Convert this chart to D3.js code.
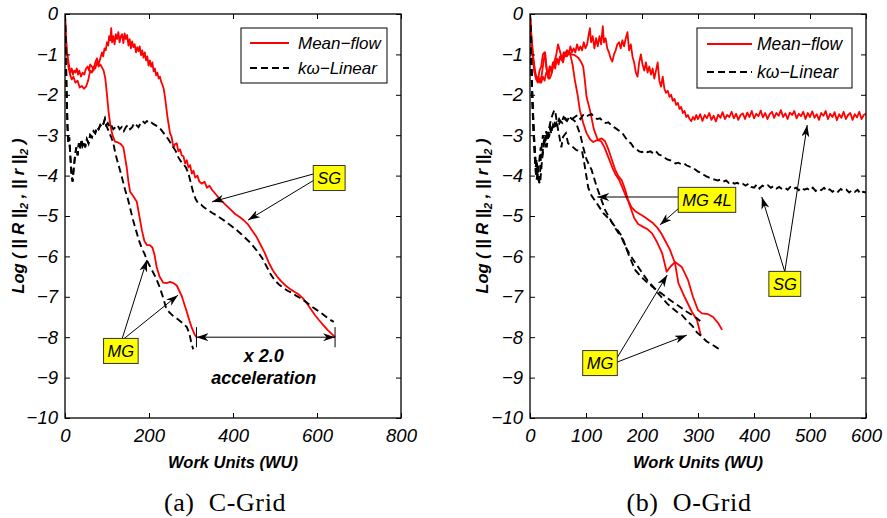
<!DOCTYPE html>
<html>
<head>
<meta charset="utf-8">
<script src="https://cdn.jsdelivr.net/npm/d3@7"></script>
<style>
body { margin: 0; background: #fff; }
svg { display: block; }
text { white-space: pre; }
</style>
</head>
<body>
<svg id="fig" width="887" height="518"></svg>
<script>
'use strict';

// ---- data (work units, log residual) ----
var yTicks = [0, -1, -2, -3, -4, -5, -6, -7, -8, -9, -10];
var cGridTicks = [0, 200, 400, 600, 800];
var oGridTicks = [0, 100, 200, 300, 400, 500, 600];

var cMeanSG = [[0,0],[2,-0.5],[4,-0.85],[7,-1.1],[10,-1.3],[13,-1.45],[16,-1.35],[19,-1.5],[22,-1.4],[25,-1.45],[28,-1.35],[31,-1.5],[34,-1.4],[38,-1.55],[42,-1.45],[46,-1.5],[50,-1.35],[54,-1.3],[57,-1.4],[60,-1.25],[64,-1.3],[68,-1.4],[72,-1.2],[76,-1.1],[80,-1.25],[84,-1.1],[88,-0.95],[91,-1.05],[94,-0.85],[97,-0.9],[100,-0.7],[103,-0.78],[105,-0.55],[108,-0.65],[110,-0.35],[112,-0.7],[115,-0.55],[118,-0.75],[121,-0.5],[124,-0.62],[127,-0.45],[130,-0.7],[133,-0.55],[136,-0.5],[139,-0.72],[142,-0.48],[145,-0.62],[148,-0.52],[151,-0.78],[154,-0.62],[157,-0.85],[160,-0.68],[163,-0.82],[166,-0.75],[169,-0.95],[172,-0.82],[175,-0.92],[178,-0.8],[181,-1.02],[184,-0.9],[187,-1.08],[190,-0.95],[193,-1.15],[196,-1.05],[199,-1.28],[202,-1.15],[205,-1.3],[208,-1.2],[211,-1.42],[214,-1.35],[217,-1.52],[220,-1.45],[223,-1.6],[226,-1.55],[229,-1.68],[232,-1.75],[235,-1.85],[238,-2.05],[241,-2.3],[244,-2.55],[247,-2.75],[250,-2.95],[254,-3.05],[258,-3.3],[262,-3.22],[266,-3.2],[270,-3.4],[274,-3.35],[278,-3.5],[282,-3.52],[286,-3.7],[290,-3.62],[294,-3.8],[298,-3.74],[302,-3.95],[306,-3.88],[310,-4.05],[315,-4.0],[320,-4.15],[326,-4.2],[332,-4.15],[338,-4.3],[344,-4.25],[350,-4.35],[358,-4.45],[366,-4.55],[375,-4.65],[385,-4.75],[395,-4.85],[405,-4.95],[415,-5.02],[425,-5.1],[435,-5.2],[445,-5.35],[455,-5.5],[465,-5.7],[475,-5.9],[485,-6.15],[495,-6.35],[505,-6.5],[515,-6.62],[525,-6.72],[535,-6.8],[545,-6.87],[555,-6.93],[565,-7.02],[575,-7.15],[585,-7.3],[595,-7.45],[605,-7.58],[615,-7.7],[625,-7.82],[635,-7.92],[643,-8.0]];

var cMeanMG = [[0,0],[2,-0.6],[5,-1.0],[8,-1.3],[12,-1.5],[16,-1.62],[20,-1.55],[25,-1.7],[30,-1.65],[35,-1.82],[40,-1.78],[45,-1.85],[50,-1.8],[55,-1.65],[60,-1.4],[64,-1.45],[68,-1.3],[72,-1.35],[76,-1.2],[80,-1.3],[84,-1.25],[88,-1.32],[92,-1.4],[96,-1.6],[100,-2.0],[104,-2.45],[108,-2.75],[113,-3.0],[119,-3.16],[126,-3.18],[133,-3.22],[139,-3.3],[143,-3.55],[147,-3.8],[151,-4.15],[155,-4.4],[163,-4.52],[171,-4.65],[177,-5.0],[183,-5.35],[189,-5.62],[195,-5.72],[202,-5.72],[208,-5.78],[213,-5.95],[218,-6.25],[225,-6.5],[234,-6.65],[242,-6.66],[250,-6.63],[258,-6.66],[266,-6.72],[272,-6.85],[278,-6.98],[284,-7.18],[290,-7.37],[296,-7.58],[302,-7.77],[308,-7.92],[313,-8.0]];

var cKwSG = [[0,0],[2,-1.0],[4,-2.0],[6,-2.8],[8,-3.2],[10,-3.05],[12,-3.4],[15,-3.9],[18,-4.15],[21,-3.8],[24,-3.5],[27,-3.3],[30,-3.5],[33,-3.2],[36,-3.35],[39,-3.1],[42,-3.25],[45,-3.15],[48,-3.3],[52,-3.1],[56,-3.2],[60,-3.0],[64,-3.05],[68,-2.9],[72,-2.95],[76,-2.8],[80,-2.85],[84,-2.75],[88,-2.8],[92,-2.7],[95,-2.6],[98,-2.75],[102,-2.7],[106,-2.8],[110,-2.75],[115,-2.85],[120,-2.8],[125,-2.75],[130,-2.85],[135,-2.8],[140,-2.9],[145,-2.8],[150,-2.75],[155,-2.85],[160,-2.8],[165,-2.7],[170,-2.75],[175,-2.8],[180,-2.7],[185,-2.65],[190,-2.7],[195,-2.65],[200,-2.7],[205,-2.68],[210,-2.72],[215,-2.75],[220,-2.78],[225,-2.82],[230,-2.88],[235,-2.95],[240,-3.02],[246,-3.1],[252,-3.2],[258,-3.3],[264,-3.4],[270,-3.55],[276,-3.65],[282,-3.72],[288,-3.8],[294,-3.95],[300,-4.2],[306,-4.45],[312,-4.6],[318,-4.7],[324,-4.72],[330,-4.78],[340,-4.85],[350,-4.92],[360,-4.98],[370,-5.05],[380,-5.12],[390,-5.2],[400,-5.28],[410,-5.36],[420,-5.45],[430,-5.55],[440,-5.65],[450,-5.77],[460,-5.9],[470,-6.05],[480,-6.25],[490,-6.45],[500,-6.6],[510,-6.7],[520,-6.78],[530,-6.85],[540,-6.9],[550,-6.97],[560,-7.03],[570,-7.1],[580,-7.18],[590,-7.26],[600,-7.33],[610,-7.4],[620,-7.48],[630,-7.56],[640,-7.62]];

var cKwMG = [[0,0],[2,-1.0],[4,-2.0],[6,-2.8],[8,-3.2],[10,-3.05],[12,-3.4],[15,-3.9],[18,-4.15],[21,-3.8],[24,-3.5],[27,-3.3],[30,-3.5],[33,-3.2],[36,-3.35],[39,-3.1],[42,-3.25],[45,-3.15],[48,-3.3],[52,-3.1],[56,-3.2],[60,-3.0],[64,-3.05],[68,-2.9],[72,-2.95],[76,-2.8],[80,-2.85],[84,-2.75],[88,-2.8],[92,-2.7],[95,-2.6],[98,-2.75],[102,-2.85],[106,-2.95],[110,-3.05],[115,-3.2],[120,-3.45],[125,-3.65],[131,-3.87],[137,-4.1],[143,-4.35],[149,-4.55],[155,-4.8],[162,-5.1],[169,-5.35],[176,-5.6],[183,-5.8],[190,-5.95],[195,-6.1],[205,-6.3],[215,-6.5],[225,-6.75],[233,-7.0],[240,-7.25],[248,-7.38],[258,-7.48],[268,-7.55],[280,-7.65],[290,-7.75],[296,-7.9],[300,-8.1],[305,-8.3]];

var oMeanSG = [[0,0],[3,-0.6],[6,-1.1],[9,-1.4],[12,-1.6],[15,-1.55],[18,-1.7],[21,-1.5],[24,-1.2],[27,-0.95],[30,-1.4],[33,-1.6],[36,-1.3],[39,-1.45],[42,-1.2],[45,-1.35],[48,-1.1],[51,-1.25],[54,-1.05],[57,-1.15],[60,-0.95],[63,-1.05],[66,-0.9],[69,-1.0],[72,-0.8],[75,-0.95],[78,-0.85],[81,-0.95],[84,-0.75],[87,-0.9],[90,-0.8],[93,-0.9],[96,-0.7],[99,-0.85],[102,-0.75],[105,-0.5],[107,-0.35],[109,-0.7],[112,-0.55],[115,-0.85],[118,-0.6],[121,-0.8],[124,-0.55],[127,-0.75],[130,-0.3],[132,-0.7],[135,-0.6],[138,-0.85],[141,-0.95],[144,-1.1],[147,-1.18],[150,-1.0],[153,-0.9],[156,-0.75],[159,-0.7],[162,-0.85],[165,-0.65],[168,-0.8],[171,-0.6],[174,-0.45],[177,-0.9],[180,-0.75],[183,-1.05],[186,-1.2],[189,-1.45],[192,-1.55],[195,-1.2],[198,-1.0],[201,-1.25],[204,-1.4],[207,-1.2],[210,-1.45],[213,-1.3],[216,-1.5],[219,-1.35],[222,-1.6],[225,-1.4],[228,-1.2],[231,-1.65],[234,-1.8],[237,-1.55],[240,-1.85],[243,-1.95],[246,-1.9],[249,-2.05],[252,-2.0],[255,-2.15],[258,-2.1],[261,-2.25],[264,-2.2],[267,-2.35],[270,-2.3],[273,-2.45],[276,-2.4],[279,-2.55],[282,-2.5],[285,-2.6],[288,-2.65],[291,-2.55],[294,-2.62],[297,-2.5],
  [300,-2.6],[304,-2.48],[308,-2.65],[312,-2.5],[316,-2.58],[320,-2.45],[324,-2.62],[328,-2.52],[332,-2.66],[336,-2.49],[340,-2.57],[344,-2.43],[348,-2.6],[352,-2.5],[356,-2.55],[360,-2.42],[364,-2.58],[368,-2.47],[372,-2.62],[376,-2.5],[380,-2.46],[384,-2.6],[388,-2.44],[392,-2.55],[396,-2.4],[400,-2.58],[404,-2.47],[408,-2.53],[412,-2.39],[416,-2.56],[420,-2.45],[424,-2.6],[428,-2.48],[432,-2.42],[436,-2.57],[440,-2.45],[444,-2.52],[448,-2.38],[452,-2.55],[456,-2.46],[460,-2.6],[464,-2.44],[468,-2.5],[472,-2.4],[476,-2.58],[480,-2.47],[484,-2.53],[488,-2.42],[492,-2.6],[496,-2.45],[500,-2.55],[504,-2.41],[508,-2.57],[512,-2.48],[516,-2.62],[520,-2.45],[524,-2.52],[528,-2.4],[532,-2.6],[536,-2.47],[540,-2.55],[544,-2.43],[548,-2.63],[552,-2.48],[556,-2.57],[560,-2.42],[564,-2.6],[568,-2.5],[572,-2.45],[576,-2.62],[580,-2.48],[584,-2.56],[588,-2.42],[592,-2.6],[596,-2.5],[600,-2.47]];

var oMeanMG = [[0,0],[2,-0.5],[5,-1.0],[8,-1.4],[11,-1.6],[14,-1.65],[17,-1.4],[20,-1.3],[23,-1.0],[26,-0.95],[29,-1.3],[32,-1.55],[35,-1.6],[38,-1.5],[41,-1.3],[44,-1.15],[47,-1.0],[50,-0.75],[53,-0.9],[56,-1.05],[59,-1.2],[62,-1.0],[66,-0.9],[71,-0.95],[76,-1.25],[80,-1.63],[85,-2.0],[89,-2.38],[95,-2.7],[101,-2.95],[107,-3.1],[113,-3.17],[120,-3.12],[127,-3.15],[133,-3.3],[140,-3.55],[147,-3.8],[153,-3.98],[159,-4.1],[165,-4.3],[171,-4.5],[176,-4.65],[181,-4.85],[186,-5.05],[193,-5.2],[202,-5.27],[210,-5.33],[218,-5.43],[227,-5.65],[236,-5.92],[244,-6.38],[251,-6.25],[259,-6.14],[271,-6.26],[282,-6.58],[291,-7.0],[300,-7.33],[307,-7.41],[318,-7.43],[327,-7.5],[336,-7.65],[343,-7.82]];

var oMeanMG4L = [[0,0],[2,-0.6],[5,-1.1],[8,-1.45],[11,-1.62],[14,-1.7],[17,-1.6],[20,-1.7],[23,-1.55],[26,-1.65],[29,-1.45],[32,-1.5],[35,-1.3],[38,-1.4],[41,-1.2],[44,-1.3],[47,-1.15],[50,-1.2],[54,-1.05],[58,-1.1],[62,-0.95],[66,-1.05],[70,-0.95],[74,-1.0],[80,-1.02],[86,-1.08],[91,-1.18],[95,-1.3],[98,-1.65],[101,-2.05],[107,-2.38],[114,-2.85],[121,-3.12],[128,-3.08],[134,-3.15],[140,-3.35],[146,-3.6],[152,-3.85],[158,-4.02],[164,-4.12],[170,-4.35],[175,-4.6],[181,-4.78],[188,-4.88],[196,-4.95],[204,-5.02],[212,-5.1],[220,-5.18],[228,-5.3],[234,-5.42],[241,-5.6],[250,-5.84],[259,-6.17],[265,-6.66],[277,-7.03],[289,-7.37],[298,-7.57],[305,-7.95]];

var oKwSG = [[0,0],[2,-1.0],[4,-2.0],[6,-2.6],[8,-3.3],[10,-3.8],[12,-3.6],[14,-4.0],[16,-4.2],[18,-3.9],[20,-3.4],[23,-3.0],[26,-3.2],[29,-2.9],[32,-3.1],[35,-2.8],[38,-2.95],[41,-2.75],[44,-2.85],[47,-2.7],[50,-2.8],[54,-2.65],[58,-2.7],[62,-2.6],[66,-2.65],[70,-2.55],[75,-2.6],[80,-2.55],[85,-2.5],[90,-2.6],[95,-2.5],[100,-2.55],[105,-2.5],[110,-2.48],[115,-2.55],[120,-2.6],[125,-2.58],[130,-2.65],[135,-2.7],[140,-2.68],[145,-2.75],[150,-2.8],[155,-2.85],[160,-2.9],[165,-2.95],[170,-3.05],[175,-3.15],[180,-3.2],[185,-3.3],[190,-3.35],[195,-3.4],[200,-3.42],[205,-3.38],[210,-3.42],[215,-3.4],[220,-3.45],[225,-3.4],[230,-3.48],[235,-3.5],[240,-3.55],[245,-3.6],[250,-3.62],[255,-3.65],[260,-3.7],[265,-3.68],[270,-3.72],[275,-3.7],[280,-3.75],[285,-3.78],[290,-3.8],[295,-3.85],[300,-3.9],[305,-3.93],[310,-3.98],[315,-4.02],[320,-4.05],[325,-4.08],[330,-4.1],[335,-4.12],[340,-4.1],[345,-4.15],[350,-4.12],[355,-4.18],[360,-4.15],[365,-4.2],[370,-4.18],[375,-4.22],[380,-4.2],[385,-4.25],[390,-4.2],[395,-4.28],[400,-4.3],[405,-4.22],[410,-4.32],[415,-4.25],[420,-4.28],[425,-4.24],[430,-4.3],[435,-4.26],[440,-4.32],[445,-4.28],[450,-4.33],[455,-4.3],[460,-4.35],[465,-4.28],[470,-4.33],[475,-4.3],[480,-4.36],[485,-4.3],[490,-4.35],[495,-4.32],[500,-4.37],[505,-4.3],[510,-4.38],[515,-4.33],[520,-4.36],[525,-4.3],[530,-4.38],[535,-4.34],[540,-4.4],[545,-4.35],[550,-4.4],[555,-4.33],[560,-4.38],[565,-4.35],[570,-4.42],[575,-4.36],[580,-4.4],[585,-4.35],[590,-4.45],[595,-4.4],[600,-4.42]];

var oKwMG = [[0,0],[2,-1.1],[4,-2.1],[6,-2.9],[8,-3.4],[10,-3.9],[12,-4.1],[14,-3.8],[16,-4.15],[18,-4.2],[21,-3.7],[24,-3.3],[27,-3.0],[30,-3.3],[33,-2.9],[36,-2.7],[40,-2.5],[43,-2.4],[45,-2.38],[48,-2.7],[52,-3.0],[56,-3.3],[59,-3.04],[64,-2.95],[68,-3.2],[72,-3.25],[77,-3.3],[83,-3.37],[93,-3.4],[97,-3.7],[104,-4.3],[110,-4.5],[120,-4.7],[131,-4.93],[143,-5.1],[154,-5.3],[164,-5.5],[176,-5.95],[188,-6.34],[198,-6.5],[208,-6.63],[217,-6.73],[226,-6.83],[238,-6.95],[250,-7.08],[265,-7.22],[280,-7.37],[292,-7.47],[304,-7.6]];

var oKwMG4L = [[0,0],[2,-1.0],[4,-1.9],[6,-2.7],[8,-3.2],[10,-3.6],[13,-4.0],[16,-3.7],[19,-3.3],[22,-3.5],[25,-3.1],[28,-3.3],[31,-2.9],[34,-3.05],[37,-2.8],[40,-2.9],[44,-2.7],[48,-2.75],[52,-2.6],[56,-2.7],[60,-2.55],[65,-2.6],[70,-2.55],[75,-2.6],[80,-2.65],[85,-2.8],[90,-3.0],[95,-3.3],[101,-3.6],[110,-3.86],[119,-4.27],[125,-4.5],[134,-4.85],[142,-5.05],[150,-5.25],[157,-5.4],[164,-5.55],[172,-5.8],[179,-5.97],[190,-6.2],[200,-6.4],[210,-6.6],[220,-6.75],[228,-6.9],[236,-7.03],[245,-7.17],[254,-7.28],[262,-7.37],[271,-7.45],[281,-7.6],[291,-7.74],[298,-7.88],[304,-7.95],[315,-8.1],[327,-8.2],[335,-8.27],[343,-8.33]];

var legendLabels = ['Mean\u2212flow', 'k\u03c9\u2212Linear'];

// annotation anchors, in data units
var cNotes = [
  {label: 'SG', at: [629, -4.06], arrows: [[[595, -3.95], [350, -4.65]], [[595, -4.1], [436, -5.1]]]},
  {label: 'MG', at: [133, -8.34], arrows: [[[136, -8.04], [195, -6.09]], [[140, -8.04], [269, -6.96]]]}
];
var oNotes = [
  {label: 'MG 4L', at: [316, -4.6], arrows: [[[268, -4.53], [120, -4.53]], [[268, -4.78], [232, -5.22]]]},
  {label: 'SG', at: [455, -6.68], arrows: [[[455, -6.38], [414, -4.53]], [[455, -6.38], [495, -2.75]]]},
  {label: 'MG', at: [125, -8.64], arrows: [[[155, -8.52], [245, -6.46]], [[155, -8.62], [280, -7.95]]]}
];

var FONT = '"Liberation Sans", Arial, Helvetica, sans-serif';
var plotTop = 14, plotBottom = 418;

var svg = d3.select('#fig');

var defs = svg.append('defs');
defs.append('marker')
    .attr('id', 'head')
    .attr('markerUnits', 'userSpaceOnUse')
    .attr('viewBox', '0 0 12 8')
    .attr('markerWidth', 12)
    .attr('markerHeight', 8)
    .attr('refX', 12)
    .attr('refY', 4)
    .attr('orient', 'auto-start-reverse')
  .append('path')
    .attr('d', 'M0,0 L12,4 L0,8 L3.5,4 Z')
    .style('fill', '#000');

drawPanel({
    id: 'c',
    left: 65, right: 401,
    xDomain: [0, 800],
    xTicks: cGridTicks,
    red: [cMeanSG, cMeanMG],
    dash: [cKwSG, cKwMG],
    notes: cNotes,
    yLabelX: 24,
    legend: {x: 241, y: 28, w: 146, h: 55, line: [250, 289], text: 298, rows: [43, 68], size: 17},
    caption: '(a)  C-Grid', captionX: 225
});

drawPanel({
    id: 'o',
    left: 530, right: 866,
    xDomain: [0, 600],
    xTicks: oGridTicks,
    red: [oMeanSG, oMeanMG, oMeanMG4L],
    dash: [oKwSG, oKwMG, oKwMG4L],
    notes: oNotes,
    yLabelX: 488,
    legend: {x: 697, y: 28, w: 155, h: 60, line: [707, 752], text: 757, rows: [44, 72], size: 17.5},
    caption: '(b)  O-Grid', captionX: 689
});


function drawPanel (p) {
    var g = svg.append('g');

    var x = d3.scaleLinear().domain(p.xDomain).range([p.left, p.right]);
    var y = d3.scaleLinear().domain([0, -10]).range([plotTop, plotBottom]);

    defs.append('clipPath')
        .attr('id', 'clip-' + p.id)
      .append('rect')
        .attr('x', p.left).attr('y', plotTop)
        .attr('width', p.right - p.left).attr('height', plotBottom - plotTop);

    var line = d3.line()
        .x(function (d) {return x(d[0]);})
        .y(function (d) {return y(d[1]);});

    var plot = g.append('g').attr('clip-path', 'url(#clip-' + p.id + ')');

    plot.selectAll('path.red')
        .data(p.red)
        .enter().append('path')
        .attr('class', 'red')
        .attr('d', line)
        .style('fill', 'none')
        .style('stroke', '#ff0000')
        .style('stroke-width', 1.8)
        .style('stroke-linejoin', 'round');

    plot.selectAll('path.dash')
        .data(p.dash)
        .enter().append('path')
        .attr('class', 'dash')
        .attr('d', line)
        .style('fill', 'none')
        .style('stroke', '#000')
        .style('stroke-width', 1.9)
        .style('stroke-dasharray', '7,4');

    // axes, ticks pointing inward on all four sides
    var bottomAxis = g.append('g')
        .attr('transform', 'translate(0,' + plotBottom + ')')
        .call(d3.axisBottom(x).tickValues(p.xTicks).tickSizeInner(-5).tickSizeOuter(0).tickPadding(8));
    g.append('g')
        .attr('transform', 'translate(0,' + plotTop + ')')
        .call(d3.axisTop(x).tickValues(p.xTicks).tickSizeInner(-5).tickSizeOuter(0).tickFormat(''));
    g.append('g')
        .attr('transform', 'translate(' + p.left + ',0)')
        .call(d3.axisLeft(y).tickValues(yTicks).tickSizeInner(-5).tickSizeOuter(0).tickPadding(7).tickFormat(d3.format('d')));
    g.append('g')
        .attr('transform', 'translate(' + p.right + ',0)')
        .call(d3.axisRight(y).tickValues(yTicks).tickSizeInner(-5).tickSizeOuter(0).tickFormat(''));

    g.selectAll('.domain').remove();
    g.selectAll('.tick line').style('stroke', '#000').style('stroke-width', 1);
    g.selectAll('.tick text')
        .style('font', 'italic 18.5px ' + FONT)
        .style('fill', '#000');
    bottomAxis.selectAll('.tick text').attr('dy', '0.85em');

    g.append('rect')
        .attr('x', p.left).attr('y', plotTop)
        .attr('width', p.right - p.left).attr('height', plotBottom - plotTop)
        .style('fill', 'none')
        .style('stroke', '#000')
        .style('stroke-width', 1.3);

    // axis labels
    g.append('text')
        .attr('x', (p.left + p.right) / 2)
        .attr('y', 468)
        .attr('text-anchor', 'middle')
        .style('font', 'italic bold 16.5px ' + FONT)
        .text('Work Units (WU)');

    var yl = g.append('text')
        .attr('transform', 'translate(' + p.yLabelX + ',' + ((plotTop + plotBottom) / 2) + ') rotate(-90)')
        .attr('text-anchor', 'middle')
        .style('font', 'italic bold 16.5px ' + FONT);
    yl.append('tspan').text('Log ( || R ||');
    yl.append('tspan').attr('dy', 4).style('font-size', '11.5px').text('2');
    yl.append('tspan').attr('dy', -4).text(' , || r ||');
    yl.append('tspan').attr('dy', 4).style('font-size', '11.5px').text('2');
    yl.append('tspan').attr('dy', -4).text(' )');

    // legend
    var L = p.legend;
    var lg = g.append('g');
    lg.append('rect')
        .attr('x', L.x).attr('y', L.y).attr('width', L.w).attr('height', L.h)
        .style('fill', '#fff').style('stroke', '#000').style('stroke-width', 1);
    lg.selectAll('line')
        .data(L.rows)
        .enter().append('line')
        .attr('x1', L.line[0]).attr('x2', L.line[1])
        .attr('y1', function (d) {return d;}).attr('y2', function (d) {return d;})
        .style('stroke', function (d, i) {return i === 0 ? '#ff0000' : '#000';})
        .style('stroke-width', function (d, i) {return i === 0 ? 1.8 : 1.9;})
        .style('stroke-dasharray', function (d, i) {return i === 0 ? null : '7,4';});
    lg.selectAll('text')
        .data(L.rows)
        .enter().append('text')
        .attr('x', L.text)
        .attr('y', function (d) {return d;})
        .attr('dy', '0.36em')
        .style('font', 'italic ' + L.size + 'px ' + FONT)
        .text(function (d, i) {return legendLabels[i];});

    // annotations: arrows then yellow boxes
    var ann = g.append('g');
    p.notes.forEach(function (n) {
        n.arrows.forEach(function (a) {
            ann.append('line')
                .attr('x1', x(a[0][0])).attr('y1', y(a[0][1]))
                .attr('x2', x(a[1][0])).attr('y2', y(a[1][1]))
                .style('stroke', '#000').style('stroke-width', 1)
                .attr('marker-end', 'url(#head)');
        });
    });
    p.notes.forEach(function (n) {
        var bx = ann.append('g');
        var t = bx.append('text')
            .attr('x', x(n.at[0])).attr('y', y(n.at[1]))
            .attr('dy', '0.36em')
            .attr('text-anchor', 'middle')
            .style('font', 'italic 16.5px ' + FONT)
            .text(n.label);
        var w = t.node().getComputedTextLength() + 8;
        bx.insert('rect', 'text')
            .attr('x', x(n.at[0]) - w / 2).attr('y', y(n.at[1]) - 12.5)
            .attr('width', w).attr('height', 25)
            .style('fill', '#ffff00')
            .style('stroke', '#333')
            .style('stroke-width', 1);
    });

    if (p.id === 'c') drawAcceleration(g, x, y);

    g.append('text')
        .attr('x', p.captionX)
        .attr('y', 511)
        .attr('text-anchor', 'middle')
        .style('font', '26px "Liberation Serif", "Times New Roman", serif')
        .style('letter-spacing', '0.6px')
        .text(p.caption);
}

function drawAcceleration (g, x, y) {
    var mgEnd = cMeanMG[cMeanMG.length - 1];
    var sgEnd = cMeanSG[cMeanSG.length - 1];
    g.append('line')
        .attr('x1', x(mgEnd[0])).attr('y1', y(mgEnd[1]))
        .attr('x2', x(sgEnd[0])).attr('y2', y(sgEnd[1]))
        .style('stroke', '#000').style('stroke-width', 1)
        .attr('marker-start', 'url(#head)')
        .attr('marker-end', 'url(#head)');
    [mgEnd, sgEnd].forEach(function (e) {
        g.append('line')
            .attr('x1', x(e[0])).attr('x2', x(e[0]))
            .attr('y1', y(e[1] + 0.25)).attr('y2', y(e[1] - 0.25))
            .style('stroke', '#000').style('stroke-width', 1);
    });
    var cx = x((mgEnd[0] + sgEnd[0]) / 2) - 2;
    g.append('text')
        .attr('x', cx).attr('y', y(-8.62))
        .attr('text-anchor', 'middle')
        .style('font', 'italic bold 18px ' + FONT)
        .text('x 2.0');
    g.append('text')
        .attr('x', cx).attr('y', y(-9.15))
        .attr('text-anchor', 'middle')
        .style('font', 'italic bold 18px ' + FONT)
        .text('acceleration');
}
</script>
</body>
</html>
